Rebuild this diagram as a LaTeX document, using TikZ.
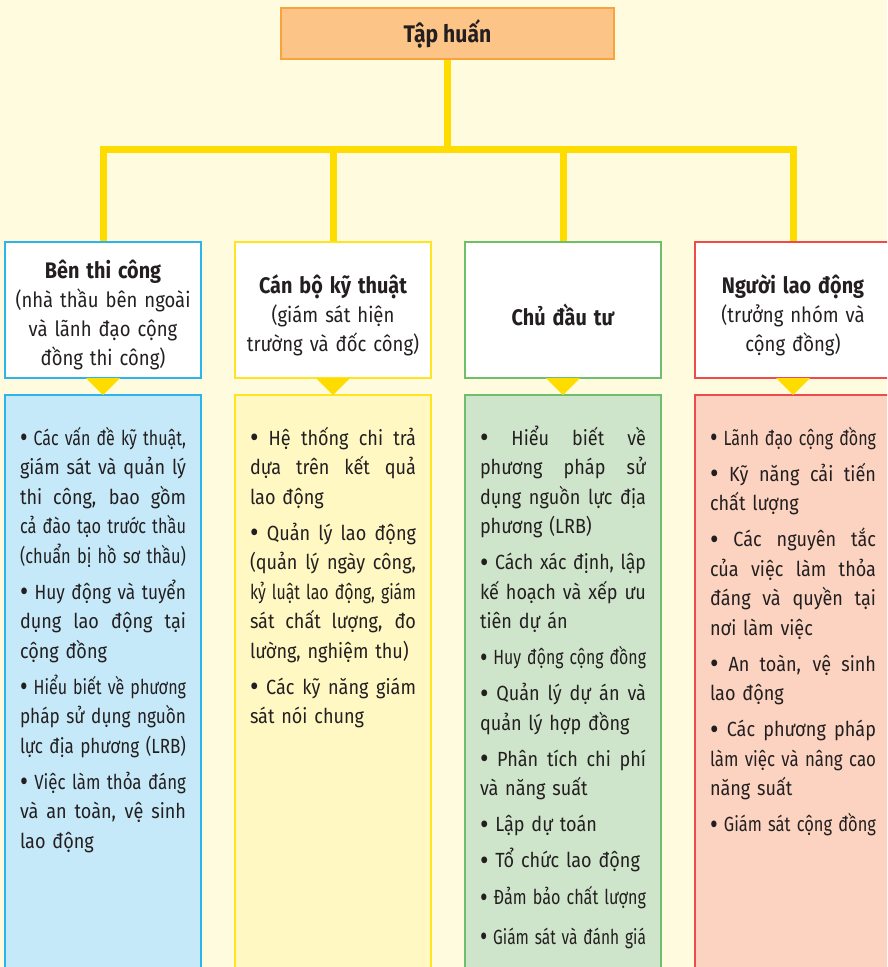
\documentclass[tikz,border=0pt]{standalone}
\usepackage{fontspec}
\setmainfont{Fira Sans}[FakeStretch=0.88]
\usepackage{graphicx}
\usetikzlibrary{positioning, backgrounds}

\definecolor{bgcream}{HTML}{FFFBDF}
\definecolor{topfill}{HTML}{FDC487}
\definecolor{topline}{HTML}{F8A33D}
\definecolor{linkyellow}{HTML}{FFDC00}
\definecolor{blueline}{HTML}{2CB5EC}
\definecolor{bluefill}{HTML}{C6E9F9}
\definecolor{yelline}{HTML}{FFE51F}
\definecolor{yelfill}{HTML}{FFF8C2}
\definecolor{greenline}{HTML}{6DBF6B}
\definecolor{greenfill}{HTML}{CFE5CB}
\definecolor{redline}{HTML}{EF4B4C}
\definecolor{redfill}{HTML}{FBD3C0}
\definecolor{ink}{HTML}{231F20}

% one printed line of a column: justified, squeezed when too long
\newlength\colw
\setlength\colw{166pt}
\newcommand\bul{\raisebox{-2.6pt}{\scalebox{1.45}{•}}}
\newcommand\fullln[1]{\leavevmode\setbox0=\hbox{#1}%
  \ifdim\wd0>\colw\resizebox{\colw}{\height}{\rule{0pt}{21pt}#1}%
  \else\hbox to\colw{\spaceskip=\fontdimen2\font plus 1fil\relax\rule{0pt}{21pt}#1}\fi}
\newcommand\lastln[1]{\leavevmode\setbox0=\hbox{#1}%
  \ifdim\wd0>\colw\resizebox{\colw}{\height}{\rule{0pt}{21pt}#1}%
  \else\hbox{\rule{0pt}{21pt}#1}\fi}

\begin{document}
\begin{tikzpicture}[x=1pt, y=1pt,
    topbox/.style={draw=topline, fill=topfill, line width=1.4pt, minimum width=333pt, minimum height=51pt, inner sep=0pt, outer sep=0pt, font=\bfseries\fontsize{24}{30}\selectfont, text=ink},
    headbox/.style={draw=#1, fill=white, line width=1.4pt, minimum width=196pt, minimum height=136pt, inner sep=0pt, outer sep=0pt},
    headtext/.style={text width=190pt, align=center, inner sep=0pt, font=\fontsize{21}{29}\selectfont, text=ink},
    bodybox/.style 2 args={draw=#1, fill=#2, line width=1.4pt, minimum width=196pt, minimum height=620pt, inner sep=0pt, outer sep=0pt},
    bodytext/.style={text width=\colw, align=left, inner sep=0pt, font=\fontsize{20.5}{29.5}\selectfont, text=ink},
    link/.style={draw=linkyellow, line width=7pt},
    pointer/.style={fill=linkyellow}
]
\useasboundingbox (0,0) rectangle (887,-967);
\clip (0,0) rectangle (887,-967);

\node[topbox] (train) at (447.5,-33.5) {Tập huấn};

\node[headbox=blueline] (hd1) at (103,-310) {};
\node[headbox=yelline, right=34pt of hd1] (hd2) {};
\node[headbox=greenline, right=34pt of hd2] (hd3) {};
\node[headbox=redline, right=34pt of hd3] (hd4) {};

\node[bodybox={blueline}{bluefill}, below=17pt of hd1] (bx1) {};
\node[bodybox={yelline}{yelfill}, below=17pt of hd2] (bx2) {};
\node[bodybox={greenline}{greenfill}, below=17pt of hd3] (bx3) {};
\node[bodybox={redline}{redfill}, below=17pt of hd4] (bx4) {};

\coordinate (bus) at ([yshift=-90pt]train.south);
\begin{pgfonlayer}{background}
\fill[bgcream] (0,0) rectangle (887,-967);
\draw[link] (train.south) -- (bus);
\foreach \c in {1,...,4}
  \draw[link] (bus) -| (hd\c.north);
\end{pgfonlayer}

\foreach \c in {1,...,4}
  \fill[pointer] (hd\c.south) ++(-17,0) -- ++(34,0) -- ++(-17,-17) -- cycle;

% headings
\node[headtext] (ht1) at ([yshift=-5pt]hd1.center) {{\bfseries\fontsize{22.5}{29}\selectfont Bên thi công}\\(nhà thầu bên ngoài\\và lãnh đạo cộng\\đồng thi công)};
\node[headtext] (ht2) at ([yshift=-5pt]hd2.center) {{\bfseries\fontsize{22.5}{29}\selectfont Cán bộ kỹ thuật}\\(giám sát hiện\\trường và đốc công)};
\node[headtext] (ht3) at ([yshift=-5pt]hd3.center) {{\bfseries\fontsize{22.5}{29}\selectfont Chủ đầu tư}};
\node[headtext] (ht4) at ([yshift=-5pt]hd4.center) {{\bfseries\fontsize{22.5}{29}\selectfont Người lao động}\\(trưởng nhóm và\\cộng đồng)};

% column texts
\node[bodytext, below=29pt of bx1.north] (tx1) {%
\fullln{\bul{} Các vấn đề kỹ thuật,}\\
\fullln{giám sát và quản lý}\\
\fullln{thi công, bao gồm}\\
\fullln{cả đào tạo trước thầu}\\
\fullln{(chuẩn bị hồ sơ thầu)}\\[6.5pt]
\fullln{\bul{} Huy động và tuyển}\\
\fullln{dụng lao động tại}\\
\lastln{cộng đồng}\\[6.5pt]
\fullln{\bul{} Hiểu biết về phương}\\
\fullln{pháp sử dụng nguồn}\\
\lastln{lực địa phương (LRB)}\\[6.5pt]
\fullln{\bul{} Việc làm thỏa đáng}\\
\fullln{và an toàn, vệ sinh}\\
\lastln{lao động}};

\node[bodytext, below=29pt of bx2.north] (tx2) {%
\fullln{\bul{} Hệ thống chi trả}\\
\fullln{dựa trên kết quả}\\
\lastln{lao động}\\[6.5pt]
\fullln{\bul{} Quản lý lao động}\\
\fullln{(quản lý ngày công,}\\
\fullln{kỷ luật lao động, giám}\\
\fullln{sát chất lượng, đo}\\
\lastln{lường, nghiệm thu)}\\[6.5pt]
\fullln{\bul{} Các kỹ năng giám}\\
\lastln{sát nói chung}};

\node[bodytext, below=29pt of bx3.north] (tx3) {%
\fullln{\bul{} Hiểu biết về}\\
\fullln{phương pháp sử}\\
\fullln{dụng nguồn lực địa}\\
\lastln{phương (LRB)}\\[6.5pt]
\fullln{\bul{} Cách xác định, lập}\\
\fullln{kế hoạch và xếp ưu}\\
\lastln{tiên dự án}\\[6.5pt]
\fullln{\bul{} Huy động cộng đồng}\\[6.5pt]
\fullln{\bul{} Quản lý dự án và}\\
\lastln{quản lý hợp đồng}\\[6.5pt]
\fullln{\bul{} Phân tích chi phí}\\
\lastln{và năng suất}\\[6.5pt]
\lastln{\bul{} Lập dự toán}\\[6.5pt]
\lastln{\bul{} Tổ chức lao động}\\[7.5pt]
\fullln{\bul{} Đảm bảo chất lượng}\\[10pt]
\fullln{\bul{} Giám sát và đánh giá}};

\node[bodytext, below=29pt of bx4.north] (tx4) {%
\fullln{\bul{} Lãnh đạo cộng đồng}\\[6.5pt]
\fullln{\bul{} Kỹ năng cải tiến}\\
\lastln{chất lượng}\\[6.5pt]
\fullln{\bul{} Các nguyên tắc}\\
\fullln{của việc làm thỏa}\\
\fullln{đáng và quyền tại}\\
\lastln{nơi làm việc}\\[6.5pt]
\fullln{\bul{} An toàn, vệ sinh}\\
\lastln{lao động}\\[6.5pt]
\fullln{\bul{} Các phương pháp}\\
\fullln{làm việc và nâng cao}\\
\lastln{năng suất}\\[6.5pt]
\fullln{\bul{} Giám sát cộng đồng}};

\end{tikzpicture}
\end{document}
